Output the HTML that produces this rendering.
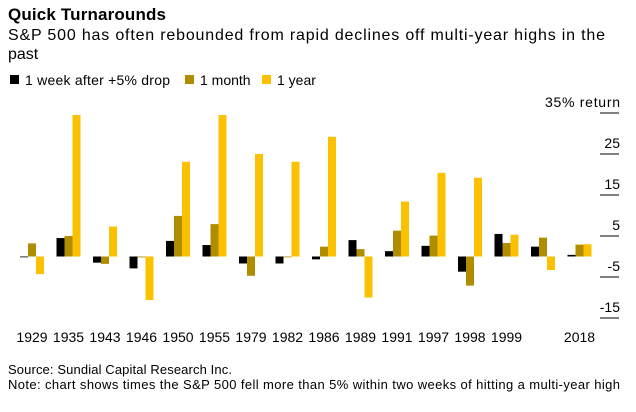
<!DOCTYPE html>
<html><head><meta charset="utf-8"><style>
body{margin:0;background:#fff;width:636px;height:412px;overflow:hidden;font-family:"Liberation Sans",sans-serif;}
svg{position:absolute;left:0;top:0}
</style></head><body>
<svg width="636" height="412">
<text x="8" y="20" font-size="17" font-weight="bold" fill="#000" textLength="158">Quick Turnarounds</text>
<text x="8" y="40" font-size="16" fill="#000" textLength="597">S&amp;P 500 has often rebounded from rapid declines off multi-year highs in the</text>
<text x="8" y="59" font-size="16" fill="#000">past</text>
<g font-size="14">
<rect x="10" y="75" width="9" height="9" fill="#000"/>
<text x="25" y="85" textLength="145">1 week after +5% drop</text>
<rect x="185" y="75" width="9" height="9" fill="#b08d00"/>
<text x="200" y="85">1 month</text>
<rect x="262" y="75" width="9" height="9" fill="#fbc100"/>
<text x="277" y="85">1 year</text>
</g>
<g id="axis"></g>
<g id="bars"></g>
<g id="xlabels"></g>
<text x="8" y="374" font-size="13" fill="#000" textLength="224">Source: Sundial Capital Research Inc.</text>
<text x="8" y="389" font-size="13" fill="#000" textLength="612">Note: chart shows times the S&amp;P 500 fell more than 5% within two weeks of hitting a multi-year high</text>
</svg>
<script>
const categories=["1929","1935","1943","1946","1950","1955","1979","1982","1986","1989","1991","1997","1998","1999","","2018"];
const weekValues=[-0.2,4.5,-1.5,-2.9,3.8,2.8,-1.7,-1.7,-0.7,4,1.3,2.6,-3.7,5.5,2.4,0.4];
const monthValues=[3.2,5,-1.8,-0.2,9.9,7.9,-4.7,-0.2,2.4,1.8,6.3,5.1,-7.1,3.3,4.6,2.9];
const yearValues=[-4.3,34.5,7.3,-10.6,23.1,34.5,25,23.1,29.2,-10,13.4,20.4,19.2,5.3,-3.3,3];
const tickValues=[35,25,15,5,-5,-15];
const tickLabels=["35% return","25","15","5","-5","-15"];
const NS="http://www.w3.org/2000/svg";
const y=v=>256.5-v*4.1;
const xg=i=>20+i*36.5;
const axis=document.getElementById('axis'),bars=document.getElementById('bars'),xl=document.getElementById('xlabels');
tickValues.forEach((v,i)=>{
 const l=document.createElementNS(NS,'line');
 l.setAttribute('x1',600);l.setAttribute('x2',619);l.setAttribute('y1',y(v));l.setAttribute('y2',y(v));l.setAttribute('stroke','#000');l.setAttribute('stroke-width','1');
 
 
 axis.appendChild(l);
 const t=document.createElementNS(NS,'text');
 t.setAttribute('x',620);t.setAttribute('y',y(v)-6);t.setAttribute('text-anchor','end');t.setAttribute('font-size','14');
 if(i===0)t.setAttribute('textLength','75');
 t.textContent=tickLabels[i];
 
 
 axis.appendChild(t);
});
const series=[[weekValues,'#000','week'],[monthValues,'#b08d00','month'],[yearValues,'#fbc100','year']];
categories.forEach((c,i)=>{
 series.forEach((s,j)=>{
  const v=s[0][i];const r=document.createElementNS(NS,'rect');
  r.setAttribute('x',xg(i)+j*8);r.setAttribute('width',8);
  r.setAttribute('y',Math.min(y(v),y(0)));r.setAttribute('height',Math.max(Math.abs(y(v)-y(0)),0.8));
  r.setAttribute('fill',s[1]);
  
  
  bars.appendChild(r);
 });
 const t=document.createElementNS(NS,'text');
 t.setAttribute('x',xg(i)+12);t.setAttribute('y',342);t.setAttribute('text-anchor','middle');t.setAttribute('font-size','14');
 t.textContent=c;
 
 
 xl.appendChild(t);
});
</script>
</body></html>
